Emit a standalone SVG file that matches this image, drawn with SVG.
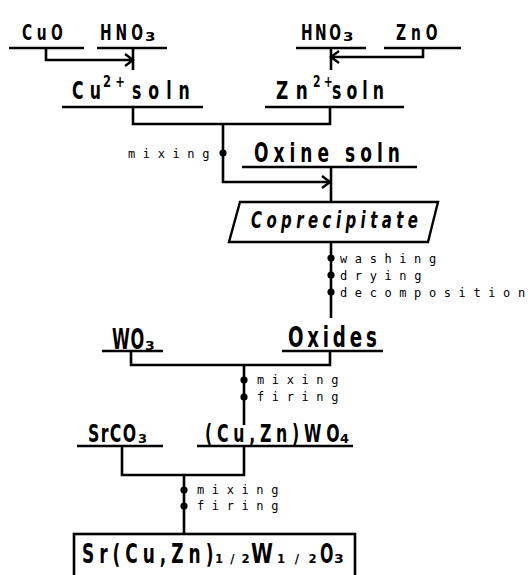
<svg xmlns="http://www.w3.org/2000/svg" width="528" height="575" viewBox="0 0 528 575">
<defs>
<style>
.lbl{font-family:"DejaVu Sans Condensed","DejaVu Sans",sans-serif;font-weight:bold;fill:#000}
.sm{font-family:"DejaVu Sans Mono","Liberation Mono",monospace;font-size:12px;letter-spacing:7.6px;fill:#000}
.ul{stroke:#000;stroke-width:2.6;fill:none}
.ln{stroke:#000;stroke-width:2.6;fill:none}
.ar{stroke:#000;stroke-width:2.4;fill:none}
.dot{fill:#000}
</style>
</defs>
<rect width="528" height="575" fill="#fff"/>

<g id="connectors">
<path class="ln" d="M46,48 V60 H133"/>
<path class="ar" d="M125,54 L133,60 L125,66"/>
<path class="ln" d="M133,48 V70"/>
<path class="ln" d="M423,48 V57 H331"/>
<path class="ar" d="M339,51 L331,57 L339,63"/>
<path class="ln" d="M331,48 V70"/>
<path class="ln" d="M133,107 V124 H330 V107"/>
<path class="ln" d="M223,124 V182 H330"/>
<path class="ar" d="M322,176 L330,182 L322,188"/>
<path class="ln" d="M331,167 V202"/>
<path class="ln" d="M331,242 V318"/>
<path class="ln" d="M330,351 V365 H131 V351"/>
<path class="ln" d="M244,365 V425"/>
<path class="ln" d="M122,446 V475 H244 V446"/>
<path class="ln" d="M184,475 V534"/>
<circle class="dot" cx="223" cy="153" r="3.6"/>
<circle class="dot" cx="331" cy="258" r="3.6"/>
<circle class="dot" cx="331" cy="275" r="3.6"/>
<circle class="dot" cx="331" cy="292" r="3.6"/>
<circle class="dot" cx="244" cy="380" r="3.6"/>
<circle class="dot" cx="244" cy="397" r="3.6"/>
<circle class="dot" cx="184" cy="490" r="3.6"/>
<circle class="dot" cx="184" cy="506" r="3.6"/>
<text class="sm" x="128" y="158">mixin<tspan letter-spacing="0">g</tspan></text>
<text class="sm" x="340" y="263">washin<tspan letter-spacing="0">g</tspan></text>
<text class="sm" x="340" y="280">dryin<tspan letter-spacing="0">g</tspan></text>
<text class="sm" x="340" y="297" letter-spacing="7.2">decompositio<tspan letter-spacing="0">n</tspan></text>
<text class="sm" x="257" y="384">mixin<tspan letter-spacing="0">g</tspan></text>
<text class="sm" x="257" y="401">firin<tspan letter-spacing="0">g</tspan></text>
<text class="sm" x="197" y="494">mixin<tspan letter-spacing="0">g</tspan></text>
<text class="sm" x="197" y="510">firin<tspan letter-spacing="0">g</tspan></text>
</g>

<g id="CuO">
<text class="lbl" transform="translate(22,40) scale(0.7,1)" font-size="22" letter-spacing="6.5">Cu<tspan letter-spacing="0">O</tspan></text>
<line class="ul" x1="9" y1="48" x2="84" y2="48"/>
</g>
<g id="HNO3-left">
<text class="lbl" transform="translate(100,40) scale(0.7,1)" font-size="22" letter-spacing="5.7">HN<tspan letter-spacing="0">O</tspan></text>
<text class="lbl" transform="translate(145,41) scale(1.4,1)" font-size="12">3</text>
<line class="ul" x1="97" y1="48" x2="167" y2="48"/>
</g>
<g id="HNO3-right">
<text class="lbl" transform="translate(301,40) scale(0.7,1)" font-size="22" letter-spacing="3.6">HN<tspan letter-spacing="0">O</tspan></text>
<text class="lbl" transform="translate(343,41) scale(1.4,1)" font-size="12">3</text>
<line class="ul" x1="296" y1="48" x2="366" y2="48"/>
</g>
<g id="ZnO">
<text class="lbl" transform="translate(396,40) scale(0.7,1)" font-size="22" letter-spacing="7">Zn<tspan letter-spacing="0">O</tspan></text>
<line class="ul" x1="384" y1="48" x2="461" y2="48"/>
</g>
<g id="Cu-soln">
<text class="lbl" transform="translate(72,99) scale(0.7,1)" font-size="25" letter-spacing="8.9">C<tspan letter-spacing="0">u</tspan></text>
<text class="lbl" transform="translate(103,87) scale(0.85,1)" font-size="15" letter-spacing="5">2<tspan letter-spacing="0">+</tspan></text>
<text class="lbl" transform="translate(132,99) scale(0.7,1)" font-size="25" letter-spacing="10">sol<tspan letter-spacing="0">n</tspan></text>
<line class="ul" x1="62" y1="107" x2="203" y2="107"/>
</g>
<g id="Zn-soln">
<text class="lbl" transform="translate(276,99) scale(0.75,1)" font-size="25" letter-spacing="10">Z<tspan letter-spacing="0">n</tspan></text>
<text class="lbl" transform="translate(313,87) scale(0.8,1)" font-size="15" letter-spacing="4">2<tspan letter-spacing="0">+</tspan></text>
<text class="lbl" transform="translate(332,99) scale(0.7,1)" font-size="25" letter-spacing="7.2">sol<tspan letter-spacing="0">n</tspan></text>
<line class="ul" x1="265" y1="107" x2="404" y2="107"/>
</g>
<g id="Oxine-soln">
<text class="lbl" transform="translate(254,162) scale(0.7,1)" font-size="27" letter-spacing="7.2">Oxine sol<tspan letter-spacing="0">n</tspan></text>
<line class="ul" x1="242" y1="167" x2="417" y2="167"/>
</g>
<g id="Coprecipitate">
<polygon points="240,202 438,202 428,242 229,242" fill="#fff" stroke="#000" stroke-width="2.4"/>
<text class="lbl" transform="translate(251,228) scale(0.72,1)" font-size="23" font-style="italic" letter-spacing="6.2">Coprecipitat<tspan letter-spacing="0">e</tspan></text>
</g>
<g id="WO3">
<text class="lbl" transform="translate(112,349) scale(0.62,1)" font-size="29" letter-spacing="1">W<tspan letter-spacing="0">O</tspan></text>
<text class="lbl" transform="translate(145,350) scale(1.2,1)" font-size="13">3</text>
<line class="ul" x1="102" y1="351" x2="163" y2="351"/>
</g>
<g id="Oxides">
<text class="lbl" transform="translate(288,347) scale(0.7,1)" font-size="29" letter-spacing="5.4">Oxide<tspan letter-spacing="0">s</tspan></text>
<line class="ul" x1="282" y1="351" x2="383" y2="351"/>
</g>
<g id="SrCO3">
<text class="lbl" transform="translate(88,442) scale(0.7,1)" font-size="25" letter-spacing="1.9">SrC<tspan letter-spacing="0">O</tspan></text>
<text class="lbl" transform="translate(138,443) scale(1.2,1)" font-size="12">3</text>
<line class="ul" x1="77" y1="446" x2="163" y2="446"/>
</g>
<g id="CuZnWO4">
<text class="lbl" transform="translate(205,442) scale(0.7,1)" font-size="25" letter-spacing="6.8">(Cu,Zn)W<tspan letter-spacing="0">O</tspan></text>
<text class="lbl" transform="translate(340,443) scale(1.2,1)" font-size="12">4</text>
<line class="ul" x1="197" y1="446" x2="353" y2="446"/>
</g>
<g id="product">
<rect x="74" y="534" width="281" height="60" fill="#fff" stroke="#000" stroke-width="2.6"/>
<text class="lbl" transform="translate(82,563) scale(0.7,1)" font-size="27" letter-spacing="7.1">Sr(Cu,Zn<tspan letter-spacing="0">)</tspan></text>
<text class="lbl" transform="translate(215,563)" font-size="13" letter-spacing="7">1/<tspan letter-spacing="0">2</tspan></text>
<text class="lbl" transform="translate(251,563) scale(0.82,1)" font-size="27">W</text>
<text class="lbl" transform="translate(277,563)" font-size="13" letter-spacing="9.5">1/<tspan letter-spacing="0">2</tspan></text>
<text class="lbl" transform="translate(320,563) scale(0.65,1)" font-size="27">O</text>
<text class="lbl" transform="translate(334,563) scale(1.2,1)" font-size="13">3</text>
</g>
</svg>
